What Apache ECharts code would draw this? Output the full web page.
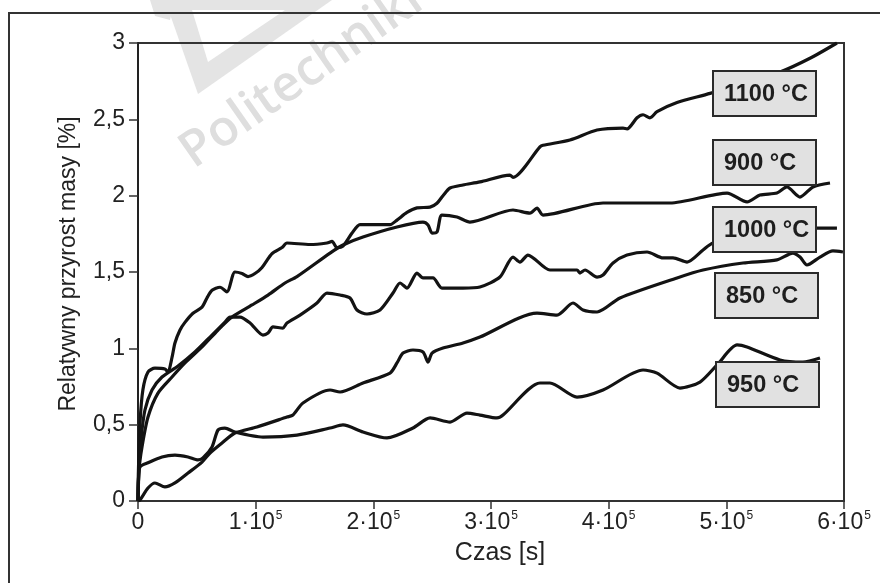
<!DOCTYPE html>
<html><head><meta charset="utf-8">
<script src="https://cdn.jsdelivr.net/npm/echarts@6/dist/echarts.min.js"></script>
<style>html,body{margin:0;padding:0;background:#fff}#c{width:880px;height:583px}</style>
</head><body><div id="c"></div><script>
// ---- data (time in seconds, mass gain in %) ----
const seriesNames = ['1100 °C', '900 °C', '1000 °C', '850 °C', '950 °C'];
const xTickMantissa = ['0', '1', '2', '3', '4', '5', '6'];
const yTickLabels = ['0', '0,5', '1', '1,5', '2', '2,5', '3'];

const t1100 = [0,300,1700,4200,8500,14400,22900,25500,28900,31400,35700,39900,46700,54400,58600,62900,69700,75600,82400,88400,93500,99400,105400,113900,122400,126600,146200,160600,164900,169100,174200,181900,188700,203100,214200,220100,228600,237100,248200,254100,259200,265200,276200,290600,316100,318700,341600,344200,367100,390100,412200,415600,424100,429200,435100,441100,458100,486200,515900,545600,571100,594000];
const m1100 = [0,0.18,0.51,0.73,0.845,0.87,0.865,0.845,0.94,1.035,1.12,1.17,1.23,1.27,1.33,1.38,1.40,1.37,1.50,1.49,1.47,1.49,1.53,1.62,1.66,1.69,1.68,1.69,1.70,1.66,1.67,1.755,1.81,1.81,1.81,1.84,1.89,1.92,1.925,1.95,2.00,2.05,2.07,2.09,2.135,2.12,2.32,2.33,2.365,2.43,2.443,2.437,2.51,2.53,2.51,2.55,2.61,2.67,2.745,2.81,2.90,3.0];

const t900 = [0,800,3400,8500,17000,28900,39900,54400,68000,79900,96900,110500,124900,135100,163200,174200,191200,220100,242200,246500,249900,254100,258300,271100,282100,318700,333100,339100,344200,395200,452100,500600,517600,528600,543000,551500,562600,573600,588100];
const m900 = [0,0.20,0.354,0.55,0.707,0.812,0.904,1.009,1.12,1.205,1.284,1.349,1.428,1.47,1.624,1.677,1.729,1.795,1.827,1.808,1.755,1.762,1.873,1.86,1.827,1.906,1.886,1.919,1.873,1.952,1.952,2.017,1.959,2.004,2.017,2.057,1.991,2.057,2.083];

const t1000 = [0,800,2500,5900,11900,20400,34000,48400,62900,73900,78200,86700,95200,106200,110500,114700,123200,126600,137700,152100,160600,171700,180200,186100,194600,205700,216700,222700,228600,237100,242200,250700,258300,276200,290600,307600,318700,324600,331400,350100,373100,375600,379900,390100,395200,403700,415600,432600,446200,454700,466600,480200,488700,528600,575300,594000];
const m1000 = [0,0.203,0.40,0.596,0.727,0.812,0.884,0.976,1.087,1.172,1.205,1.205,1.166,1.087,1.10,1.14,1.133,1.166,1.218,1.297,1.362,1.349,1.33,1.251,1.225,1.251,1.362,1.428,1.395,1.493,1.461,1.461,1.395,1.395,1.402,1.467,1.598,1.565,1.611,1.513,1.513,1.493,1.513,1.467,1.48,1.559,1.611,1.631,1.592,1.592,1.565,1.644,1.69,1.742,1.788,1.788];

const t850 = [0,1700,8500,14400,22900,31400,42500,54400,61200,71400,82400,101100,126600,131700,140200,163200,171700,191200,214200,220100,225200,233700,242200,246500,249900,259200,276200,290600,339100,356100,369700,378200,390100,409600,458100,480200,514200,543000,556600,562600,568500,579600,590600,599100];
const m850 = [0,0.007,0.085,0.118,0.092,0.118,0.183,0.255,0.314,0.38,0.445,0.485,0.55,0.563,0.642,0.727,0.714,0.773,0.838,0.904,0.969,0.989,0.976,0.91,0.969,1.002,1.035,1.074,1.231,1.218,1.297,1.251,1.238,1.33,1.461,1.513,1.559,1.579,1.624,1.598,1.546,1.598,1.638,1.631];

const t950 = [0,400,1700,8500,20400,31400,42500,51000,55200,62900,68000,73900,82400,106200,135100,163200,174200,191200,211600,233700,248200,265200,279600,290600,305100,310200,341600,350100,373100,395200,429200,441100,460600,477600,492100,509100,517600,545600,565100,579600];
const m950 = [0,0.14,0.223,0.25,0.288,0.30,0.288,0.269,0.282,0.354,0.465,0.478,0.452,0.419,0.432,0.478,0.498,0.452,0.413,0.478,0.544,0.517,0.576,0.563,0.544,0.563,0.773,0.773,0.681,0.727,0.858,0.838,0.74,0.779,0.891,1.022,1.009,0.924,0.91,0.937];

const seriesT = [t1100, t900, t1000, t850, t950];
const seriesM = [m1100, m900, m1000, m850, m950];

// ---- chart ----
const FONT = '"Liberation Sans", Arial, sans-serif';
const chart = echarts.init(document.getElementById('c'), null, {renderer: 'canvas'});

const series = seriesNames.map((name, i) => ({
  name: name,
  type: 'line',
  data: seriesT[i].map((t, k) => [t, seriesM[i][k]]),
  showSymbol: false,
  smooth: 0.25,
  lineStyle: {color: '#131313', width: 3.2},
  z: 3,
  silent: true
}));

// label boxes (annotations)
const boxes = [
  {x: 713, y: 71, w: 103, h: 45},
  {x: 713, y: 140, w: 103, h: 45},
  {x: 713, y: 207, w: 103, h: 45},
  {x: 715, y: 273, w: 103, h: 45},
  {x: 716, y: 362, w: 103, h: 45}
];
const graphics = [];
// watermark logo + text (faint)
graphics.push({type: 'polygon', z: -10, shape: {points: [[165,0],[198,94],[332,0]]}, style: {fill: '#e4e4e4'}});
graphics.push({type: 'polygon', z: -9, shape: {points: [[192,10],[208,62],[285,10]]}, style: {fill: '#ffffff'}});
graphics.push({type: 'polygon', z: -10, shape: {points: [[150,0],[175,0],[170,20],[155,16]]}, style: {fill: '#e4e4e4'}});
graphics.push({type: 'text', z: -8, x: 200, y: 178, rotation: 35 * Math.PI / 180,
  style: {text: 'Politechniki', font: '600 50px "Open Sans", sans-serif', fill: '#dedede', textVerticalAlign: 'bottom'}});
// outer frame (left + top)
graphics.push({type: 'polyline', z: 50, shape: {points: [[9,583],[9,13],[880,13]]}, style: {stroke: '#333', lineWidth: 2, fill: null}});
boxes.forEach((b, i) => {
  graphics.push({type: 'rect', z: 100, shape: {x: b.x, y: b.y, width: b.w, height: b.h},
    style: {fill: '#e1e1e1', stroke: '#2a2a2a', lineWidth: 2}});
  graphics.push({type: 'text', z: 101, x: b.x + 11, y: b.y + b.h / 2 + 1,
    style: {text: seriesNames[i], font: 'bold 23.5px ' + FONT, fill: '#1e1e1e', textVerticalAlign: 'middle'}});
});

chart.setOption({
  animation: false,
  backgroundColor: '#ffffff',
  grid: {left: 138, right: 36, top: 43, bottom: 82, show: true, borderColor: '#333', borderWidth: 2, backgroundColor: 'transparent'},
  xAxis: {
    type: 'value', min: 0, max: 600000, interval: 100000,
    name: 'Czas [s]', nameLocation: 'middle', nameGap: 40,
    nameTextStyle: {fontFamily: FONT, fontSize: 25, color: '#222', padding: [0, 0, 0, 18]},
    axisLine: {show: true, lineStyle: {color: '#333', width: 2}},
    axisTick: {show: true, inside: false, length: 8, lineStyle: {color: '#333', width: 1.5}},
    splitLine: {show: false},
    axisLabel: {
      margin: 9, color: '#222', fontFamily: FONT, fontSize: 23,
      formatter: v => { const i = Math.round(v / 100000); return i === 0 ? '{m|0}' : '{m|' + xTickMantissa[i] + '·10}{s|5}'; },
      rich: {
        m: {fontFamily: FONT, fontSize: 23, color: '#222', lineHeight: 24, verticalAlign: 'bottom'},
        s: {fontFamily: FONT, fontSize: 12, color: '#222', lineHeight: 24, verticalAlign: 'top', padding: [0, 0, 0, 1]}
      }
    }
  },
  yAxis: {
    type: 'value', min: 0, max: 3, interval: 0.5,
    name: 'Relatywny przyrost masy [%]', nameLocation: 'middle', nameGap: 58,
    nameTextStyle: {fontFamily: FONT, fontSize: 23, color: '#222', padding: [0, 0, 0, 16]},
    axisLine: {show: true, lineStyle: {color: '#222', width: 2}},
    axisTick: {show: true, inside: false, length: 9, lineStyle: {color: '#333', width: 1.5}},
    splitLine: {show: false},
    axisLabel: {margin: 13, color: '#222', fontFamily: FONT, fontSize: 23,
      formatter: v => yTickLabels[Math.round(v * 2)]}
  },
  series: series,
  graphic: graphics
});
</script></body></html>
